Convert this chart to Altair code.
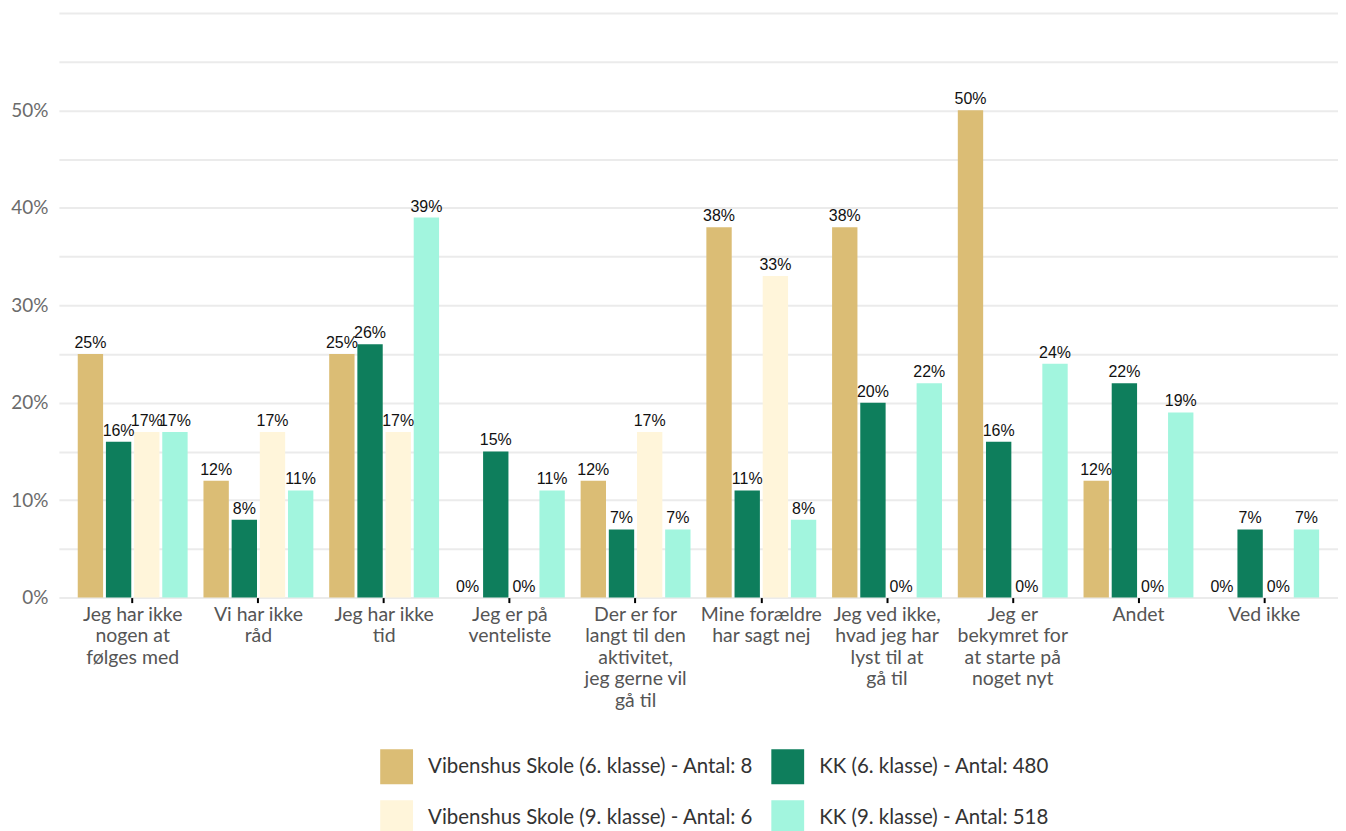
import altair as alt
import pandas as pd

categories = [
    "Jeg har ikke nogen at følges med",
    "Vi har ikke råd",
    "Jeg har ikke tid",
    "Jeg er på venteliste",
    "Der er for langt til den aktivitet, jeg gerne vil gå til",
    "Mine forældre har sagt nej",
    "Jeg ved ikke, hvad jeg har lyst til at gå til",
    "Jeg er bekymret for at starte på noget nyt",
    "Andet",
    "Ved ikke",
]
label_lines = [
    ["Jeg har ikke", "nogen at", "følges med"],
    ["Vi har ikke", "råd"],
    ["Jeg har ikke", "tid"],
    ["Jeg er på", "venteliste"],
    ["Der er for", "langt til den", "aktivitet,", "jeg gerne vil", "gå til"],
    ["Mine forældre", "har sagt nej"],
    ["Jeg ved ikke,", "hvad jeg har", "lyst til at", "gå til"],
    ["Jeg er", "bekymret for", "at starte på", "noget nyt"],
    ["Andet"],
    ["Ved ikke"],
]
series = [
    "Vibenshus Skole (6. klasse) - Antal: 8",
    "KK (6. klasse) - Antal: 480",
    "Vibenshus Skole (9. klasse) - Antal: 6",
    "KK (9. klasse) - Antal: 518",
]
colors = ["#DBBD75", "#0E7E5C", "#FFF5DA", "#A2F5DE"]

vib6 = [25, 12, 25, 0, 12, 38, 38, 50, 12, 0]
kk6 = [16, 8, 26, 15, 7, 11, 20, 16, 22, 7]
vib9 = [17, 17, 17, 0, 17, 33, 0, 0, 0, 0]
kk9 = [17, 11, 39, 11, 7, 8, 22, 24, 19, 7]

y_grid = [0, 5, 10, 15, 20, 25, 30, 35, 40, 45, 50, 55, 60]
y_labeled = [0, 10, 20, 30, 40, 50]

rows = []
for s, vals in zip(series, [vib6, kk6, vib9, kk9]):
    for c, v in zip(categories, vals):
        rows.append({"cat": c, "series": s, "value": v / 100})
df = pd.DataFrame(rows)

def q(s):
    return "'" + s.replace("'", "\\'") + "'"

lines_js = "[" + ",".join("[" + ",".join(q(l) for l in ls) + "]" for ls in label_lines) + "]"
cats_js = "[" + ",".join(q(c) for c in categories) + "]"
x_label_expr = f"{lines_js}[indexof({cats_js}, datum.value)]"
labeled_js = "[" + ",".join(str(v) for v in y_labeled) + "]"
y_label_expr = f"indexof({labeled_js}, round(datum.value*100)) >= 0 ? datum.label : ''"

FONT = "Lato"

x = alt.X(
    "cat:N",
    sort=categories,
    title=None,
    scale=alt.Scale(paddingInner=0.126, paddingOuter=0.15),
    axis=alt.Axis(
        labelAngle=0,
        labelExpr=x_label_expr,
        labelFont=FONT,
        labelFontSize=19.5,
        labelColor="#555555",
        labelLineHeight=21.5,
        labelBaseline="top",
        labelPadding=3,
        ticks=True,
        tickColor="#000000",
        tickSize=5,
        tickWidth=2,
        domain=False,
        grid=False,
    ),
)
xo = alt.XOffset("series:N", sort=series, scale=alt.Scale(paddingInner=0.1))
y = alt.Y(
    "value:Q",
    title=None,
    scale=alt.Scale(domain=[0, 0.6], nice=False),
    axis=alt.Axis(
        values=[t / 100 for t in y_grid],
        format=".0%",
        labelExpr=y_label_expr,
        ticks=False,
        domain=False,
        gridColor="#ebebeb",
        gridWidth=2,
        labelFont=FONT,
        labelFontSize=19,
        labelColor="#6b6b6b",
        labelPadding=11,
    ),
)
color = alt.Color(
    "series:N",
    sort=series,
    scale=alt.Scale(domain=series, range=colors),
    legend=alt.Legend(
        title=None,
        orient="none",
        legendX=321,
        legendY=738,
        columns=2,
        direction="horizontal",
        symbolType="M-0.94,-1H0.94V1H-0.94Z",
        symbolSize=1225,
        symbolStrokeWidth=0,
        symbolOpacity=1,
        labelFont=FONT,
        labelFontSize=20.5,
        labelColor="#333333",
        labelOffset=14,
        rowPadding=16,
        columnPadding=16,
        labelLimit=0,
    ),
)

base = alt.Chart(df).encode(x=x, xOffset=xo, y=y)
bars = base.mark_bar().encode(color=color)
text = base.mark_text(
    baseline="alphabetic", dy=-6, font="Liberation Sans", fontSize=16, color="#111111"
).encode(text=alt.Text("value:Q", format=".0%"))

chart = (
    alt.layer(bars, text)
    .properties(
        width=1282,
        height=586,
        padding={"left": 2, "top": 4, "right": 0, "bottom": 0},
    )
    .configure_view(stroke=None)
)

chart.save("out.html", embed_options={"renderer": "svg", "actions": False})
